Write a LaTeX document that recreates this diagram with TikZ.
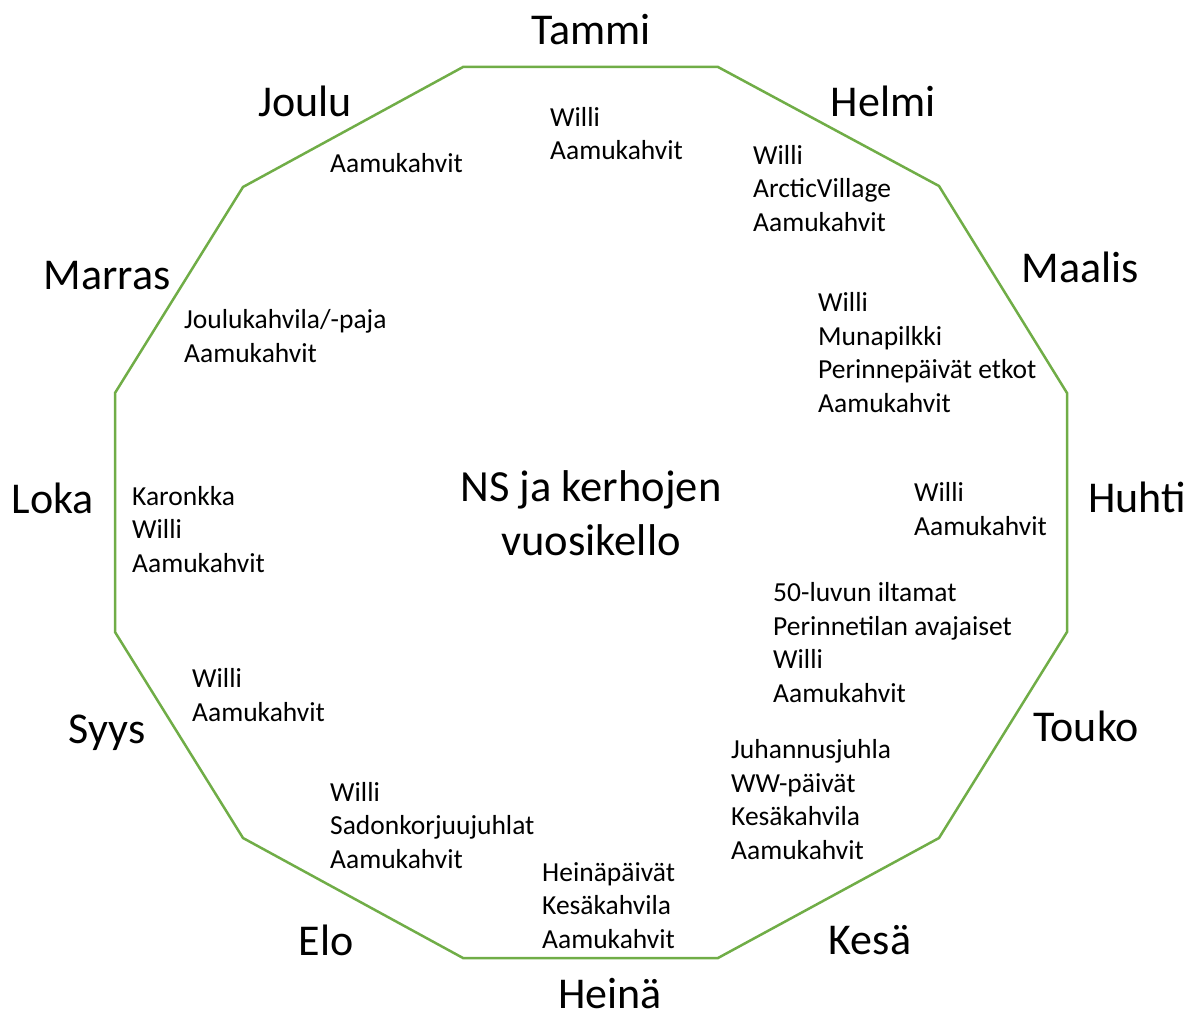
\documentclass[tikz,border=0pt]{standalone}
\usepackage{fontspec}
\setmainfont{Carlito}
\definecolor{ringgreen}{HTML}{70AD47}
\begin{document}
\begin{tikzpicture}[x=1pt,y=-1pt,
  month/.style={font=\fontsize{44}{53}\selectfont, anchor=base, inner sep=0pt},
  % multi-line nodes: the base anchor sits on the baseline of the last line
  events/.style={font=\fontsize{27.5}{33.5}\selectfont, align=left, anchor=base west, inner sep=0pt},
  title/.style={font=\fontsize{44.5}{54}\selectfont, align=center, anchor=base, inner sep=0pt},
  ring/.style={draw=ringgreen, line width=2.5pt, line join=miter}]
\useasboundingbox (0,0) rectangle (1192,1014);

% the year ring
\draw[ring] (463,67) -- (718,67) -- (939,186) -- (1067,393) -- (1067,632)
  -- (939,838) -- (718,958) -- (463,958) -- (243,838) -- (115,632)
  -- (115,393) -- (243,187) -- cycle;

% centre title
\node[title] (title) at (591,555) {NS ja kerhojen\\vuosikello};

% months around the ring
\node[month] (tammi)  at (591,45)   {Tammi};
\node[month] (helmi)  at (883,117)  {Helmi};
\node[month] (maalis) at (1080,282) {Maalis};
\node[month] (huhti)  at (1137,512) {Huhti};
\node[month] (touko)  at (1086,741) {Touko};
\node[month] (kesa)   at (870,954)  {Kesä};
\node[month] (heina)  at (610,1008) {Heinä};
\node[month] (elo)    at (326,955)  {Elo};
\node[month] (syys)   at (107,743)  {Syys};
\node[month] (loka)   at (53,513)   {Loka};
\node[month] (marras) at (107,289)  {Marras};
\node[month] (joulu)  at (305,117)  {Joulu};

% events of each month
\node[events] (ev-tammi)  at (550,160) {Willi\\Aamukahvit};
\node[events] (ev-helmi)  at (753,231) {Willi\\ArcticVillage\\Aamukahvit};
\node[events] (ev-maalis) at (818,412) {Willi\\Munapilkki\\Perinnepäivät etkot\\Aamukahvit};
\node[events] (ev-huhti)  at (914,535) {Willi\\Aamukahvit};
\node[events] (ev-touko)  at (773,702) {50-luvun iltamat\\Perinnetilan avajaiset\\Willi\\Aamukahvit};
\node[events] (ev-kesa)   at (731,859) {Juhannusjuhla\\WW-päivät\\Kesäkahvila\\Aamukahvit};
\node[events] (ev-heina)  at (542,948) {Heinäpäivät\\Kesäkahvila\\Aamukahvit};
\node[events] (ev-elo)    at (330,868) {Willi\\Sadonkorjuujuhlat\\Aamukahvit};
\node[events] (ev-syys)   at (192,721) {Willi\\Aamukahvit};
\node[events] (ev-loka)   at (132,572) {Karonkka\\Willi\\Aamukahvit};
\node[events] (ev-marras) at (184,362) {Joulukahvila/-paja\\Aamukahvit};
\node[events] (ev-joulu)  at (330,173) {Aamukahvit};
\end{tikzpicture}
\end{document}
